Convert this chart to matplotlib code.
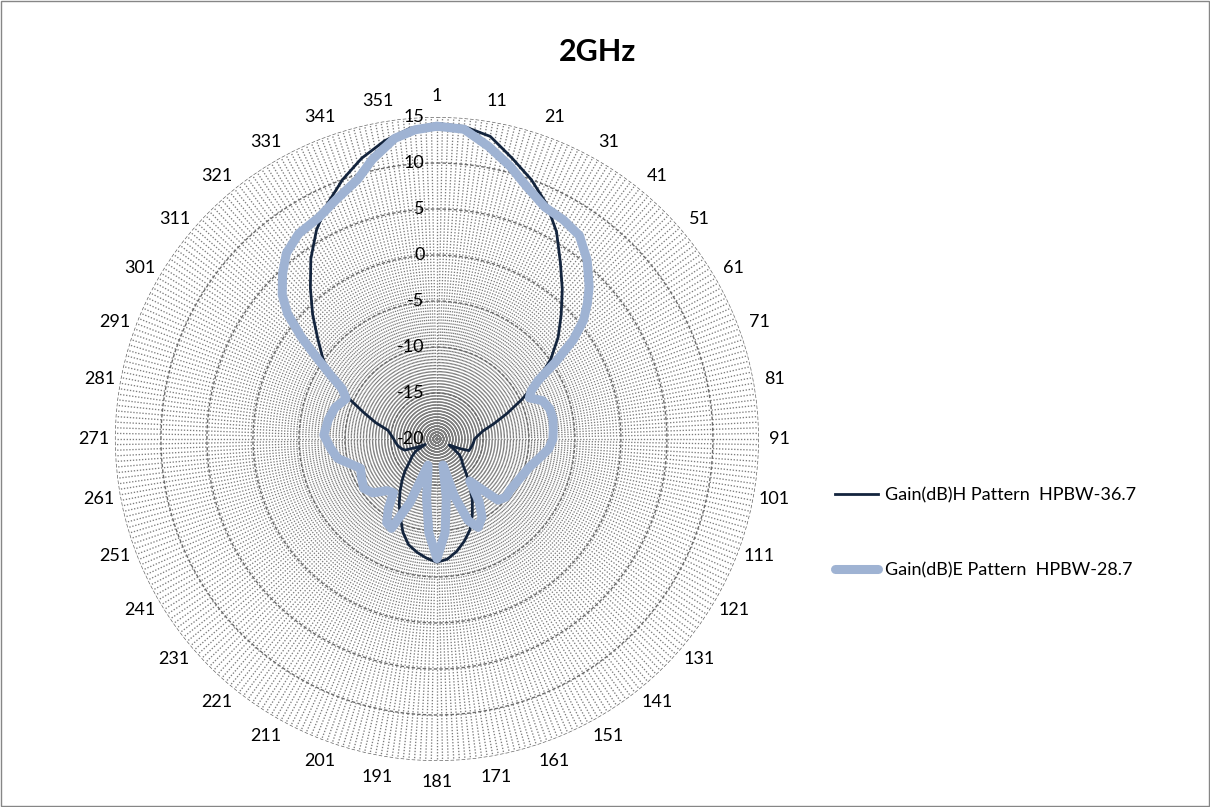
import matplotlib.pyplot as plt
import numpy as np
from matplotlib.patches import Rectangle

plt.rcParams['font.family'] = ['Lato', 'DejaVu Sans']

# angles in degrees (category 1 = 0 deg, clockwise) and gain values
h_angles = [0, 5, 10, 15, 20, 25, 30, 35, 40, 45, 50, 55, 60, 65, 70, 75, 80, 85, 90, 95,
            100, 105, 110, 113, 116, 120, 125, 130, 135, 140, 145, 150, 155, 160, 165, 170,
            175, 180, 185, 190, 195, 200, 205, 210, 215, 220, 225, 230, 235, 240, 245, 248,
            251, 255, 260, 265, 270, 275, 280, 285, 290, 295, 300, 305, 310, 315, 320, 325,
            330, 335, 340, 345, 350, 355]
h_gain = [14.3, 14.1, 13.4, 11.6, 10.0, 8.2, 6.0, 3.4, 1.2, -0.9, -2.8, -4.9, -7.4, -9.8,
          -11.9, -13.6, -14.9, -15.5, -15.9, -16.0, -16.1, -16.2, -16.3, -17.4, -18.5, -18.0,
          -17.0, -16.5, -16.0, -15.0, -13.8, -12.3, -10.9, -9.5, -8.5, -7.6, -6.9, -6.6, -7.0,
          -7.5, -8.1, -9.2, -10.6, -11.8, -13.0, -14.1, -15.1, -16.1, -16.7, -17.3, -18.6,
          -17.5, -16.3, -16.0, -15.7, -15.5, -15.3, -15.0, -14.6, -13.1, -11.5, -9.3, -6.8,
          -4.9, -3.1, -0.9, 1.4, 3.9, 6.2, 8.2, 10.0, 11.6, 12.9, 13.9]

e_angles = [0, 5, 10, 15, 20, 25, 30, 35, 40, 45, 48, 51, 54, 57, 60, 63, 66, 70, 75, 80,
            85, 90, 95, 100, 107, 115, 125, 130, 135, 139, 142, 146, 150, 155, 159, 163, 167,
            171, 175, 180, 185, 190, 195, 199, 203, 207, 211, 215, 219, 224, 230, 236, 243,
            249, 254, 259, 265, 272, 280, 287, 294, 298, 301, 304, 307, 310, 313, 317, 321,
            326, 332, 337, 343, 347, 352, 356]
e_gain = [14.0, 13.8, 12.3, 10.7, 9.0, 7.8, 7.5, 7.0, 5.4, 3.4, 2.0, 0.5, -1.7, -4.6, -7.3,
          -8.5, -9.0, -7.8, -7.3, -7.2, -7.3, -7.4, -7.8, -8.6, -9.5, -10.0, -10.3, -10.2,
          -10.6, -13.0, -14.2, -11.8, -10.2, -9.4, -10.5, -13.5, -17.1, -13.5, -9.8, -7.0,
          -9.8, -13.5, -16.2, -17.0, -12.5, -9.1, -9.4, -10.8, -12.5, -12.2, -10.9, -10.4,
          -10.8, -11.1, -10.2, -9.0, -8.4, -7.7, -8.0, -8.4, -9.2, -8.3, -6.5, -4.3, -1.5,
          1.2, 3.0, 4.6, 6.0, 6.9, 7.3, 8.2, 9.5, 11.2, 13.0, 13.7]

categories = list(range(1, 361))
r_ticks = [-20, -15, -10, -5, 0, 5, 10, 15]

title = '2GHz'
h_label = 'Gain(dB)H Pattern  HPBW-36.7'
e_label = 'Gain(dB)E Pattern  HPBW-28.7'

fig = plt.figure(figsize=(12.1, 8.07), dpi=100)
ax = fig.add_axes([0.0950, 0.0570, 0.5322, 0.7980], projection='polar')
ax.set_theta_zero_location('N')
ax.set_theta_direction(-1)

# close the loops
th_h = np.deg2rad(h_angles + h_angles[:1])
r_h = h_gain + h_gain[:1]
th_e = np.deg2rad(e_angles + e_angles[:1])
r_e = e_gain + e_gain[:1]

ax.plot(th_h, r_h, color='#13243d', linewidth=2.0, label=h_label, zorder=3)
ax.plot(th_e, r_e, color='#9fb3d3', linewidth=6.5, label=e_label, zorder=4,
        solid_capstyle='round', solid_joinstyle='round')

ax.set_ylim(-20, 15)
ax.set_yticks(r_ticks)
ax.set_yticklabels([])
for v in r_ticks:
    ax.annotate(str(v), xy=(0, v), xytext=(-9, 0), textcoords='offset points',
                ha='right', va='center', fontsize=13, color='black', zorder=5)

# one spoke per category, label every tenth
ax.set_xticks(np.deg2rad([c - 1 for c in categories]))
ax.set_xticklabels([str(c) if (c - 1) % 10 == 0 else '' for c in categories])
ax.tick_params(axis='x', length=0, pad=8, labelsize=13)

ax.xaxis.grid(True, color='#7c7c7c', linestyle=(0, (1, 1.3)), linewidth=0.95)
ax.yaxis.grid(True, color='#6a6a6a', linestyle=(0, (2.5, 1.5)), linewidth=1.0)
ax.spines['polar'].set_visible(False)

fig.text(0.494, 0.935, title, ha='center', va='center', fontsize=22, fontweight='bold')

fig.legend(loc='center left', bbox_to_anchor=(0.690, 0.340), frameon=False,
           fontsize=13, handlelength=2.4, handletextpad=0.35, labelspacing=3.25,
           borderpad=0, borderaxespad=0)

fig.patches.append(Rectangle((0.0005, 0.0008), 0.999, 0.9985, transform=fig.transFigure,
                             fill=False, edgecolor='#868686', linewidth=1))

fig.savefig('out.png', dpi=100)
